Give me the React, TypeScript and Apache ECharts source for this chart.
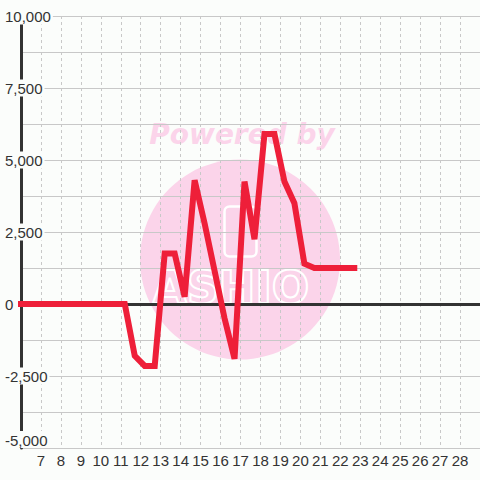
import React, { useEffect, useRef } from "react";
import * as echarts from "echarts";

const xValues = [6, 11.2, 11.7, 12.2, 12.7, 13.2, 13.7, 14.2, 14.7, 15.2, 15.7, 16.2, 16.7, 17.2, 17.7, 18.2, 18.7, 19.2, 19.7, 20.2, 20.7, 21.2, 21.7, 22.2, 22.7];
const yValues = [0, 0, -1800, -2150, -2150, 1750, 1750, 250, 4300, 2800, 1150, -500, -1900, 4250, 2250, 5900, 5900, 4250, 3500, 1400, 1250, 1250, 1250, 1250, 1250];
const xMin = 6;
const xMax = 29;
const yMin = -5000;
const yMax = 10000;
const yStep = 2500;

const BG = "#fbfdfb";
const PINK = "#fbd4ea";

export default function App() {
  const ref = useRef<HTMLDivElement>(null);
  useEffect(() => {
    if (!ref.current) return;
    const chart = echarts.init(ref.current, undefined, { renderer: "svg" });
    const data = xValues.map((x, i) => [x, yValues[i]]);
    chart.setOption({
      animation: false,
      backgroundColor: BG,
      grid: { left: 20, right: 0, top: 16, bottom: 32, containLabel: false },
      graphic: [
        {
          type: "circle",
          z: -10,
          shape: { cx: 240, cy: 259.5, r: 100 },
          style: { fill: PINK },
          silent: true,
        },
        {
          type: "text",
          z: -10,
          x: 242,
          y: 134,
          style: {
            text: "Powered by",
            fill: PINK,
            font: 'italic bold 28px "DejaVu Sans"',
            align: "center",
            verticalAlign: "middle",
          },
          silent: true,
        },
        {
          type: "rect",
          z: -9,
          shape: { x: 224.5, y: 206.5, width: 32, height: 50, r: 5 },
          style: { fill: "none", stroke: "#ffffff", lineWidth: 2.5 },
          silent: true,
        },
        {
          type: "text",
          z: -9,
          x: 231,
          y: 287,
          style: {
            text: "ASHIO",
            fill: "none",
            stroke: "#ffffff",
            lineWidth: 2,
            font: 'bold 44px "DejaVu Sans"',
            align: "center",
            verticalAlign: "middle",
          },
          silent: true,
        },
      ],
      xAxis: [
        {
          type: "value",
          min: xMin,
          max: xMax,
          interval: 1,
          position: "bottom",
          axisLine: { show: false, onZero: false },
          axisTick: { show: false },
          axisLabel: {
            show: true,
            showMinLabel: false,
            showMaxLabel: false,
            margin: 5,
            fontSize: 15,
            color: "#333333",
            fontFamily: "Liberation Sans",
          },
          splitLine: {
            show: true,
            lineStyle: { color: "#c8c8c8", width: 1, type: [3, 3] },
          },
        },
        {
          type: "value",
          min: xMin,
          max: xMax,
          interval: 1,
          position: "top",
          z: 1.5,
          axisLine: { show: true, onZero: true, lineStyle: { color: "#333333", width: 3 } },
          axisTick: { show: false },
          axisLabel: { show: false },
          splitLine: { show: false },
        },
      ],
      yAxis: {
        type: "value",
        min: yMin,
        max: yMax,
        interval: yStep,
        z: 1,
        axisLine: { show: true, lineStyle: { color: "#333333", width: 3 } },
        axisTick: { show: false },
        minorTick: { show: false, splitNumber: 2 },
        minorSplitLine: { show: true, lineStyle: { color: "#c8c8c8", width: 1 } },
        splitLine: { show: true, lineStyle: { color: "#c8c8c8", width: 1 } },
        axisLabel: {
          inside: true,
          margin: -18,
          align: "left",
          verticalAlign: "middle",
          verticalAlignMinLabel: "bottom",
          fontSize: 15,
          color: "#333333",
          fontFamily: "Liberation Sans",
          backgroundColor: BG,
          padding: [2, 2, 0, 2],
          formatter: (v: number) => v.toLocaleString("en-US"),
        },
      },
      series: [
        {
          type: "line",
          xAxisIndex: 0,
          yAxisIndex: 0,
          data,
          showSymbol: false,
          symbol: "none",
          clip: false,
          z: 3,
          lineStyle: { color: "#ee1f39", width: 6, cap: "square", join: "miter" },
        },
      ],
    });
    return () => chart.dispose();
  }, []);
  return (
    <div
      ref={ref}
      style={{ position: "fixed", left: 0, top: 0, width: 480, height: 480 }}
    />
  );
}
